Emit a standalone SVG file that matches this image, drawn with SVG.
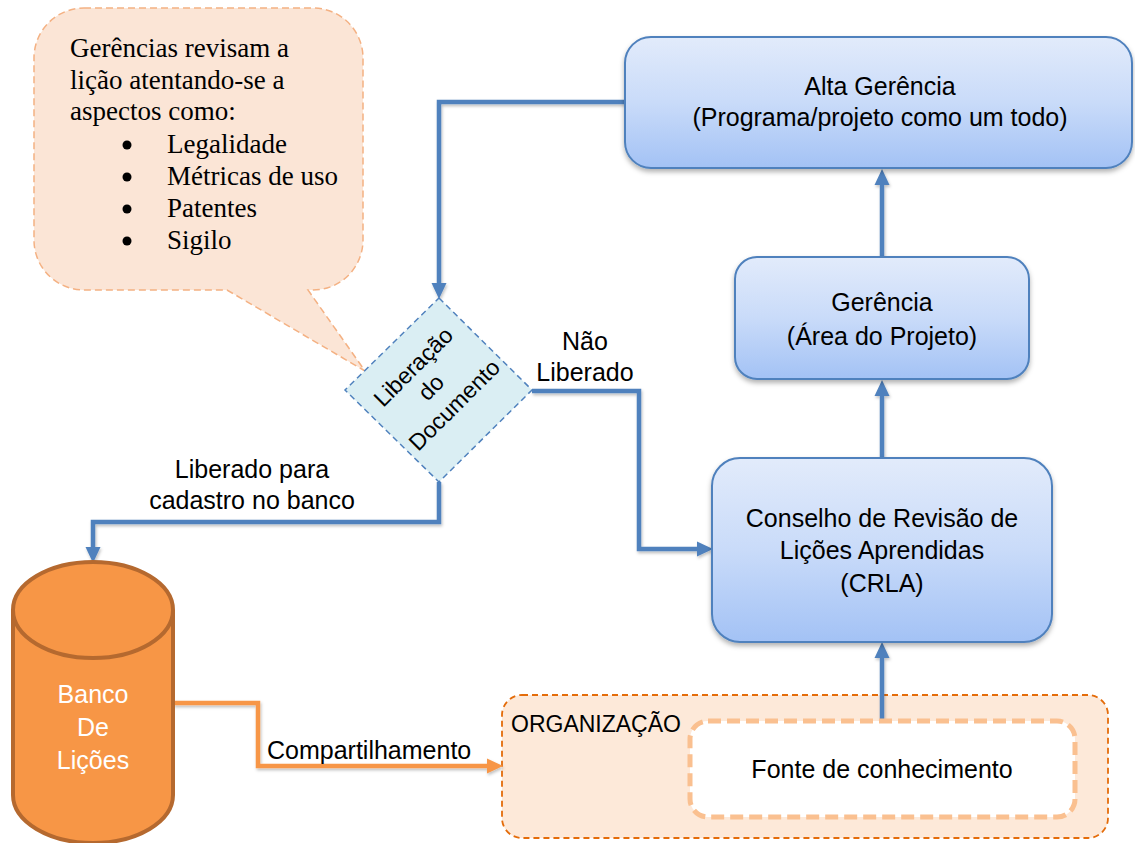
<svg xmlns="http://www.w3.org/2000/svg" width="1135" height="843" viewBox="0 0 1135 843">
<style>
.t{font-family:"Liberation Sans",Arial,sans-serif;font-size:25px;fill:#000}
.c{text-anchor:middle}
.w{fill:#fff}
.org{font-size:23px}
.dm{font-size:23px}
.serif{font-family:"Liberation Serif","Times New Roman",serif;font-size:27px;fill:#000}
.box{fill:url(#blueGrad);stroke:#4F81BD;stroke-width:2;filter:url(#sh)}
.ln{fill:none;stroke:#4F81BD;stroke-width:4.5;stroke-linejoin:miter;filter:url(#sh2)}
.lo{fill:none;stroke:#F79646;stroke-width:4.5;filter:url(#sh2)}
</style>
<defs>
<linearGradient id="blueGrad" x1="0" y1="0" x2="0" y2="1">
<stop offset="0" stop-color="#E2EBFB"/>
<stop offset="0.5" stop-color="#C9DBF9"/>
<stop offset="1" stop-color="#A3C2F5"/>
</linearGradient>
<filter id="sh" x="-10%" y="-10%" width="120%" height="130%">
<feDropShadow dx="0" dy="3" stdDeviation="2.5" flood-color="#000" flood-opacity="0.3"/>
</filter>
<filter id="sh2" filterUnits="userSpaceOnUse" x="0" y="0" width="1135" height="843">
<feDropShadow dx="1" dy="2" stdDeviation="1.5" flood-color="#000" flood-opacity="0.25"/>
</filter>
<marker id="ab" markerUnits="userSpaceOnUse" markerWidth="16" markerHeight="16" viewBox="0 0 16 16" refX="3" refY="8" orient="auto">
<path d="M0,0.5 L16,8 L0,15.5 Z" fill="#4F81BD"/>
</marker>
<marker id="ao" markerUnits="userSpaceOnUse" markerWidth="16" markerHeight="16" viewBox="0 0 16 16" refX="3" refY="8" orient="auto">
<path d="M0,0.5 L16,8 L0,15.5 Z" fill="#F79646"/>
</marker>
</defs>

<g id="callout">
<path d="M84,8 H313 A50,50 0 0 1 363,58 V240 A50,50 0 0 1 313,290 H308 L365,371 L227,290 H84 A50,50 0 0 1 34,240 V58 A50,50 0 0 1 84,8 Z" fill="#FBE5D6" stroke="#F4B183" stroke-width="1.5" stroke-dasharray="7,4"/>
<text class="serif" x="70" y="57">Gerências revisam a</text>
<text class="serif" x="70" y="89">lição atentando-se a</text>
<text class="serif" x="70" y="120">aspectos como:</text>
<circle cx="127" cy="145" r="4.5"/>
<circle cx="127" cy="177" r="4.5"/>
<circle cx="127" cy="209" r="4.5"/>
<circle cx="127" cy="241" r="4.5"/>
<text class="serif" x="167" y="153">Legalidade</text>
<text class="serif" x="167" y="185">Métricas de uso</text>
<text class="serif" x="167" y="217">Patentes</text>
<text class="serif" x="167" y="249">Sigilo</text>
</g>

<g id="organizacao">
<rect x="502" y="695" width="606" height="143" rx="20" fill="#FDE9D9" stroke="#E46C0A" stroke-width="1.8" stroke-dasharray="6,4"/>
<text class="t org" x="511" y="732">ORGANIZAÇÃO</text>
</g>

<g id="connectors">
<polyline class="ln" points="625,102 439,102 439,286" marker-end="url(#ab)"/>
<polyline class="ln" points="532,391 639,391 639,549 700,549" marker-end="url(#ab)"/>
<polyline class="ln" points="439,482 439,522 93,522 93,550" marker-end="url(#ab)"/>
<line class="ln" x1="882" y1="257" x2="882" y2="182" marker-end="url(#ab)"/>
<line class="ln" x1="882" y1="458" x2="882" y2="393" marker-end="url(#ab)"/>
<line class="ln" x1="882" y1="720" x2="882" y2="655" marker-end="url(#ab)"/>
<polyline class="lo" points="173,703 258,703 258,766 490,766" marker-end="url(#ao)"/>
<text class="t c" x="585" y="350">Não</text>
<text class="t c" x="585" y="381">Liberado</text>
<text class="t c" x="252" y="478">Liberado para</text>
<text class="t c" x="252" y="509">cadastro no banco</text>
<text class="t" x="267" y="759">Compartilhamento</text>
</g>

<g id="alta">
<rect class="box" x="625" y="37" width="507" height="131" rx="26"/>
<text class="t c" x="880" y="95">Alta Gerência</text>
<text class="t c" x="880" y="126">(Programa/projeto como um todo)</text>
</g>

<g id="gerencia">
<rect class="box" x="735" y="257" width="294" height="122" rx="22"/>
<text class="t c" x="882" y="311">Gerência</text>
<text class="t c" x="882" y="345">(Área do Projeto)</text>
</g>

<g id="crla">
<rect class="box" x="712" y="458" width="340" height="184" rx="28"/>
<text class="t c" x="882" y="527">Conselho de Revisão de</text>
<text class="t c" x="882" y="559">Lições Aprendidas</text>
<text class="t c" x="882" y="592">(CRLA)</text>
</g>

<g id="diamante">
<polygon points="439,298 532,390 439,482 345,390" fill="#DAEEF3" stroke="#4F81BD" stroke-width="1.5" stroke-dasharray="6,4"/>
<g transform="translate(438,390) rotate(-45)">
<text class="t c dm" x="-1" y="-26">Liberação</text>
<text class="t c dm" x="-3" y="1">do</text>
<text class="t c dm" x="1" y="30">Documento</text>
</g>
</g>

<g id="banco">
<path d="M13,610 V795 A80,48 0 0 0 173,795 V610" fill="#F79646" stroke="#B5692F" stroke-width="4"/>
<ellipse cx="93" cy="610" rx="80" ry="48" fill="#F79646" stroke="#B5692F" stroke-width="4"/>
<text class="t c w" x="93" y="703">Banco</text>
<text class="t c w" x="93" y="736">De</text>
<text class="t c w" x="93" y="769">Lições</text>
</g>

<g id="fonte">
<rect x="690" y="721" width="385" height="96" rx="18" fill="#FFFFFF" stroke="#FAC090" stroke-width="5" stroke-dasharray="13,6"/>
<text class="t c" x="882" y="778">Fonte de conhecimento</text>
</g>
</svg>
